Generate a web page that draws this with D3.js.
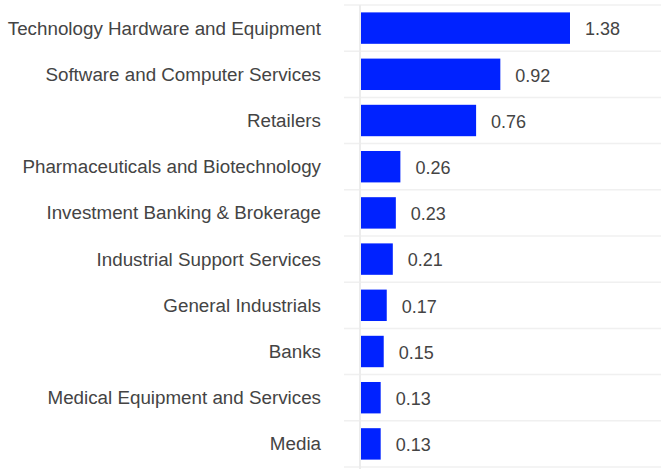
<!DOCTYPE html>
<html><head><meta charset="utf-8">
<script src="https://cdn.jsdelivr.net/npm/d3@7"></script>
<style>body{margin:0;background:#fff;} text{font-family:"Liberation Sans",Arial,sans-serif;}</style>
</head><body><svg id="c" width="661" height="469"></svg>
<script>
const categories = ["Technology Hardware and Equipment","Software and Computer Services","Retailers","Pharmaceuticals and Biotechnology","Investment Banking & Brokerage","Industrial Support Services","General Industrials","Banks","Medical Equipment and Services","Media"];
const values = [1.38,0.92,0.76,0.26,0.23,0.21,0.17,0.15,0.13,0.13];
const valueLabels = ["1.38","0.92","0.76","0.26","0.23","0.21","0.17","0.15","0.13","0.13"];

const svg = d3.select("#c");
const x = d3.scaleLinear().domain([0,1.38]).range([361,570]);
const y = d3.scaleBand().domain(categories).range([5,467]).paddingInner(0.32).paddingOuter(0.16);
const step = y.step();

// gridlines at band boundaries
svg.append("g").selectAll("line").data(d3.range(categories.length+1)).join("line")
  .attr("x1",344).attr("x2",661)
  .attr("y1",i=>5+i*step).attr("y2",i=>5+i*step)
  .attr("stroke","#f0f0f0").attr("stroke-width",1.5);

// axis line
svg.append("line").attr("x1",360).attr("x2",360).attr("y1",5).attr("y2",469)
  .attr("stroke","#ececec").attr("stroke-width",2);

const data = categories.map((c,i)=>({c,v:values[i],l:valueLabels[i]}));
svg.append("g").selectAll("rect").data(data).join("rect")
  .attr("x",x(0)).attr("y",d=>y(d.c)).attr("width",d=>x(d.v)-x(0)).attr("height",y.bandwidth())
  .attr("fill","#0022ff");

svg.append("g").selectAll("text").data(data).join("text")
  .attr("x",d=>x(d.v)+15).attr("y",d=>y(d.c)+y.bandwidth()/2+1).attr("dy","0.35em")
  .attr("font-size",18).attr("fill","#444").text(d=>d.l);

svg.append("g").selectAll("text").data(data).join("text")
  .attr("x",321).attr("y",d=>y(d.c)+y.bandwidth()/2).attr("dy","0.35em")
  .attr("text-anchor","end").attr("font-size",18.8).attr("fill","#444").text(d=>d.c);
</script></body></html>
